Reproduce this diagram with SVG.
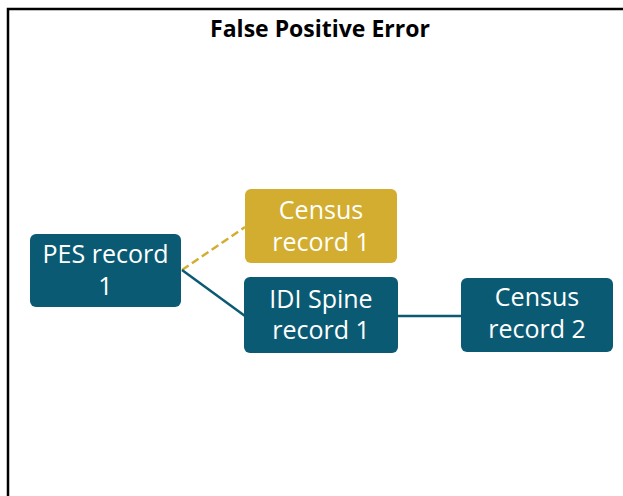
<svg xmlns="http://www.w3.org/2000/svg" width="623" height="496" viewBox="0 0 623 496">
  <style>
    .frame { fill: none; stroke: #000; stroke-width: 2.5; }
    .title { font-family: "Open Sans", "Liberation Sans", sans-serif; font-weight: bold; font-size: 23px; fill: #000; text-anchor: middle; }
    .box-teal { fill: #0b5a73; }
    .box-gold { fill: #d3ad2f; }
    .label { font-family: "Open Sans", "Liberation Sans", sans-serif; font-size: 25px; fill: #fff; text-anchor: middle; }
    .link { stroke: #0b5a73; stroke-width: 2.5; fill: none; }
    .link-dashed { stroke: #d3ad2f; stroke-width: 2.5; stroke-dasharray: 8 4; fill: none; }
  </style>

  <rect width="623" height="496" fill="#fff"/>
  <!-- open frame: top and left edges only -->
  <path class="frame" d="M8 496 V9 H623"/>

  <text class="title" x="320" y="37">False Positive Error</text>

  <g id="connectors">
    <line class="link-dashed" x1="182" y1="270" x2="245" y2="227"/>
    <line class="link" x1="182" y1="270" x2="245" y2="316"/>
    <line class="link" x1="398" y1="316" x2="461" y2="316"/>
  </g>

  <g id="pes-record-1">
    <rect class="box-teal" x="30" y="234" width="151" height="73" rx="6"/>
    <text class="label" x="105.5" y="263">PES record</text>
    <text class="label" x="105.5" y="295">1</text>
  </g>

  <g id="census-record-1">
    <rect class="box-gold" x="245" y="189" width="152" height="74" rx="6"/>
    <text class="label" x="321" y="219">Census</text>
    <text class="label" x="321" y="251">record 1</text>
  </g>

  <g id="idi-spine-record-1">
    <rect class="box-teal" x="244" y="277" width="154" height="76" rx="6"/>
    <text class="label" x="321" y="308">IDI Spine</text>
    <text class="label" x="321" y="339">record 1</text>
  </g>

  <g id="census-record-2">
    <rect class="box-teal" x="461" y="278" width="152" height="74" rx="6"/>
    <text class="label" x="537" y="306">Census</text>
    <text class="label" x="537" y="338">record 2</text>
  </g>
</svg>
